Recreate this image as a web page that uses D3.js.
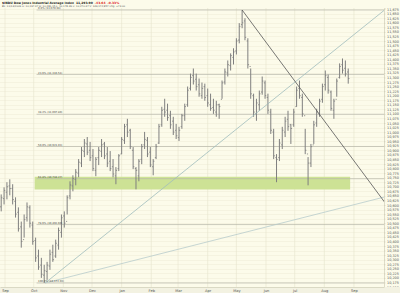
<!DOCTYPE html>
<html>
<head>
<meta charset="utf-8">
<script src="https://cdn.jsdelivr.net/npm/d3@7"></script>
<style>
  html, body { margin: 0; padding: 0; background: #fcfbea; }
  svg { display: block; font-family: 'DejaVu Sans', sans-serif; }
</style>
</head>
<body>
<svg id="chart"></svg>
<script>
// bars: one every 3 calendar days starting 28 Aug 2009
const barStart = new Date(2009, 7, 28);
const barStepDays = 3;

const highs = [
  10658, 10697, 10725, 10741, 10714, 10642, 10587, 10509, 10548, 10614,
  10598, 10509, 10421, 10355, 10310, 10272, 10288, 10355, 10382, 10410,
  10476, 10548, 10565, 10653, 10730, 10763, 10797, 10852, 10918, 10962,
  10973, 10946, 10907, 10863, 10918, 10962, 10946, 10918, 10896, 10852,
  10808, 10879, 10973, 11045, 11073, 11018, 10918, 10808, 10852, 10935,
  11001, 10973, 10918, 10852, 10935, 11045, 11139, 11183, 11156, 11117,
  11084, 11045, 11029, 11100, 11156, 11250, 11321, 11349, 11321, 11294,
  11272, 11266, 11239, 11211, 11183, 11172, 11156, 11283, 11349, 11393,
  11432, 11460, 11515, 11598, 11670, 11625, 11515, 11349, 11211, 11183,
  11228, 11305, 11283, 11211, 11128, 11018, 10879, 10962, 11029, 11084,
  11117, 11045, 11128, 11250, 11283, 11211, 11018, 10863, 10935, 11062,
  11128, 11183, 11266, 11338, 11316, 11228, 11183, 11294, 11377, 11404,
  11393, 11349
];
const lows = [
  10565, 10603, 10631, 10653, 10603, 10531, 10454, 10366, 10421, 10509,
  10476, 10382, 10288, 10244, 10200, 10172, 10189, 10244, 10288, 10310,
  10355, 10421, 10476, 10548, 10631, 10675, 10708, 10752, 10808, 10863,
  10874, 10841, 10786, 10758, 10819, 10863, 10852, 10808, 10786, 10752,
  10714, 10786, 10879, 10935, 10973, 10907, 10797, 10686, 10730, 10824,
  10907, 10863, 10808, 10763, 10852, 10935, 11029, 11084, 11062, 11018,
  10984, 10962, 10951, 11018, 11062, 11139, 11228, 11261, 11228, 11194,
  11183, 11172, 11139, 11117, 11100, 11084, 11073, 11183, 11261, 11305,
  11338, 11371, 11426, 11487, 11570, 11504, 11349, 11183, 11084, 11062,
  11117, 11205, 11183, 11100, 10990, 10852, 10725, 10841, 10907, 10973,
  11007, 10935, 11029, 11139, 11183, 11084, 10879, 10708, 10808, 10935,
  11029, 11084, 11161, 11228, 11211, 11117, 11073, 11194, 11294, 11321,
  11305, 11266
];
const opens = [
  10590, 10635, 10670, 10705, 10690, 10620, 10560, 10480, 10410, 10530,
  10585, 10490, 10405, 10320, 10270, 10215, 10235, 10265, 10340, 10320,
  10380, 10450, 10540, 10510, 10650, 10705, 10740, 10775, 10830, 10895,
  10935, 10900, 10870, 10790, 10860, 10895, 10935, 10880, 10840, 10810,
  10760, 10800, 10880, 10955, 11040, 11010, 10900, 10800, 10760, 10850,
  10930, 10955, 10890, 10810, 10860, 10940, 11040, 11125, 11120, 11090,
  11060, 11010, 10970, 11030, 11090, 11150, 11240, 11310, 11290, 11260,
  11200, 11250, 11200, 11150, 11135, 11110, 11150, 11180, 11275, 11325,
  11365, 11410, 11445, 11505, 11590, 11610, 11500, 11360, 11200, 11100,
  11150, 11220, 11270, 11190, 11110, 11000, 10860, 10860, 10930, 11000,
  11070, 11040, 11040, 11140, 11240, 11190, 11090, 10880, 10830, 10930,
  11050, 11100, 11180, 11260, 11300, 11220, 11120, 11180, 11300, 11370,
  11350, 11330
];
const closes = [
  10640, 10680, 10700, 10690, 10630, 10550, 10470, 10400, 10520, 10590,
  10500, 10400, 10310, 10260, 10220, 10240, 10270, 10330, 10300, 10390,
  10460, 10530, 10500, 10640, 10710, 10745, 10780, 10835, 10900, 10940,
  10890, 10860, 10800, 10850, 10900, 10930, 10870, 10830, 10800, 10770,
  10790, 10870, 10960, 11030, 11000, 10920, 10810, 10790, 10840, 10920,
  10960, 10880, 10820, 10840, 10920, 11030, 11120, 11110, 11080, 11040,
  11000, 10980, 11010, 11090, 11140, 11230, 11300, 11280, 11250, 11210,
  11240, 11190, 11160, 11130, 11120, 11150, 11140, 11270, 11330, 11370,
  11420, 11440, 11500, 11580, 11600, 11520, 11370, 11210, 11110, 11160,
  11210, 11280, 11200, 11120, 11010, 10870, 10850, 10940, 11010, 11060,
  11030, 11020, 11110, 11230, 11200, 11100, 10900, 10830, 10920, 11040,
  11110, 11170, 11250, 11310, 11230, 11130, 11170, 11280, 11360, 11340,
  11320, 11294
];

const monthTicks = ['2009-09-01', '2009-10-01', '2009-11-01', '2009-12-01', '2010-01-01',
  '2010-02-01', '2010-03-01', '2010-04-01', '2010-05-01', '2010-06-01', '2010-07-01',
  '2010-08-01', '2010-09-01'];
const monthLabels = ['Sep', 'Oct', 'Nov', 'Dec', 'Jan', 'Feb', 'Mar', 'Apr', 'May', 'Jun',
  'Jul', 'Aug', 'Sep'];

const priceTickMin = 10150, priceTickMax = 11675, priceTickStep = 25;

// fibonacci retracement between the Oct low and the May high
const fibHigh = 11670.04, fibLow = 10172.03;
const fibLevels = [0, 0.236, 0.382, 0.5, 0.618, 0.786, 1];
const fibStart = '2009-10-04';

// shaded support zone
const zoneDates = ['2009-10-02', '2010-08-28'];
const zonePrices = [10685, 10755];

// trendlines as [date, price] pairs
const downLine = [['2010-05-07', 11670], ['2010-10-03', 10616]];
const upLineSteep = [['2009-10-13', 10172], ['2010-10-03', 11670]];
const upLineFlat = [['2009-10-13', 10172], ['2010-10-03', 10644]];

const title = '$INDU Dow Jones Industrial Average Index';
const lastPrice = '11,293.90', lastChange = '-43.64', lastPct = '-0.33%';
const barInfo = 'Bk: 11/13/2009  O: 10,197.47  H: 10,281.15  L: 10,178.39  C: 10,270.47  V: 149,172,857  Chg: +73.00';

const W = 400, H = 293;
const plot = {left: 0, right: 384, top: 8, bottom: 287};

const parse = d3.timeParse('%Y-%m-%d');

let svg = d3.select('#chart')
    .attr('width', W)
    .attr('height', H);

svg.append('rect')
    .attr('width', W).attr('height', H)
    .attr('fill', '#fcfbea');

let x = d3.scaleTime()
    .domain([new Date(2009, 7, 26, 18), new Date(2010, 9, 2, 10)])
    .range([plot.left, plot.right]);

let y = d3.scaleLinear()
    .domain([10150, 11681])
    .range([plot.bottom, plot.top]);

let bars = highs.map((h, i) => ({
  date: d3.timeDay.offset(barStart, i * barStepDays),
  high: h,
  low: lows[i],
  open: opens[i],
  close: closes[i]
}));

svg.append('clipPath').attr('id', 'clip')
  .append('rect')
    .attr('x', plot.left).attr('y', plot.top)
    .attr('width', plot.right - plot.left)
    .attr('height', plot.bottom - plot.top);

let g = svg.append('g').attr('clip-path', 'url(#clip)');

// grid
let priceTicks = d3.range(priceTickMin, priceTickMax + 1, priceTickStep);
g.selectAll('.hgrid')
    .data(priceTicks)
  .enter().append('line')
    .attr('class', 'hgrid')
    .attr('x1', plot.left).attr('x2', plot.right)
    .attr('y1', (d) => Math.round(y(d)) + 0.5)
    .attr('y2', (d) => Math.round(y(d)) + 0.5)
    .attr('stroke', '#f0eed8')
    .attr('stroke-width', 0.6);

g.selectAll('.vgrid')
    .data(monthTicks)
  .enter().append('line')
    .attr('class', 'vgrid')
    .attr('x1', (d) => x(parse(d))).attr('x2', (d) => x(parse(d)))
    .attr('y1', plot.top).attr('y2', plot.bottom)
    .attr('stroke', '#e6e4cc')
    .attr('stroke-width', 0.6);

// support zone
g.append('rect')
    .attr('x', x(parse(zoneDates[0])))
    .attr('y', y(zonePrices[1]))
    .attr('width', x(parse(zoneDates[1])) - x(parse(zoneDates[0])))
    .attr('height', y(zonePrices[0]) - y(zonePrices[1]))
    .attr('fill', '#cde295');

// fib lines + labels
let fmt = d3.format(',.2f');
let fib = fibLevels.map((l) => ({level: l, value: fibHigh - (fibHigh - fibLow) * l}));

g.selectAll('.fib')
    .data(fib)
  .enter().append('line')
    .attr('class', 'fib')
    .attr('x1', x(parse(fibStart))).attr('x2', plot.right)
    .attr('y1', (d) => y(d.value)).attr('y2', (d) => y(d.value))
    .attr('stroke', '#b4b4a8')
    .attr('stroke-width', 0.7);

svg.selectAll('.fiblabel')
    .data(fib)
  .enter().append('text')
    .attr('class', 'fiblabel')
    .attr('x', x(parse(fibStart)) + 1.5)
    .attr('y', (d) => y(d.value) - 0.8)
    .attr('font-size', 2.6)
    .attr('fill', '#444')
    .text((d) => (d.level * 100).toFixed(1) + '% (' + fmt(d.value) + ')');

// OHLC bars
let bar = g.selectAll('.bar')
    .data(bars)
  .enter().append('g')
    .attr('class', 'bar')
    .attr('stroke', '#7f7f7f');

bar.append('line')
    .attr('x1', (d) => x(d.date)).attr('x2', (d) => x(d.date))
    .attr('y1', (d) => y(d.high)).attr('y2', (d) => y(d.low))
    .attr('stroke-width', 1);

bar.append('line')
    .attr('x1', (d) => x(d.date) - 1.2).attr('x2', (d) => x(d.date))
    .attr('y1', (d) => y(d.open)).attr('y2', (d) => y(d.open))
    .attr('stroke-width', 0.8);

bar.append('line')
    .attr('x1', (d) => x(d.date)).attr('x2', (d) => x(d.date) + 1.2)
    .attr('y1', (d) => y(d.close)).attr('y2', (d) => y(d.close))
    .attr('stroke-width', 0.8);

// trendlines
let line = d3.line()
    .x((d) => x(parse(d[0])))
    .y((d) => y(d[1]));

g.append('path').datum(upLineSteep)
    .attr('d', line)
    .attr('fill', 'none')
    .attr('stroke', '#9fbcbc')
    .attr('stroke-width', 0.8);

g.append('path').datum(upLineFlat)
    .attr('d', line)
    .attr('fill', 'none')
    .attr('stroke', '#b8cccc')
    .attr('stroke-width', 0.8);

g.append('path').datum(downLine)
    .attr('d', line)
    .attr('fill', 'none')
    .attr('stroke', '#555')
    .attr('stroke-width', 0.8);

// right price axis
let yAxis = svg.append('g')
    .attr('transform', 'translate(' + plot.right + ',0)')
    .call(d3.axisRight(y).tickValues(priceTicks).tickSize(1.5).tickPadding(1.5)
      .tickFormat(d3.format(',')));
yAxis.select('.domain').attr('stroke', '#c9c7b0').attr('stroke-width', 0.6);
yAxis.selectAll('.tick line').attr('stroke', '#c9c7b0').attr('stroke-width', 0.5);
yAxis.selectAll('.tick text')
    .attr('font-size', 3.4)
    .attr('font-family', 'DejaVu Sans, sans-serif')
    .attr('fill', '#555');

// bottom month axis
svg.append('rect')
    .attr('x', 0).attr('y', plot.bottom)
    .attr('width', W).attr('height', H - plot.bottom)
    .attr('fill', '#f3f2e2');

let xAxis = svg.append('g')
    .attr('transform', 'translate(0,' + plot.bottom + ')')
    .call(d3.axisBottom(x).tickValues(monthTicks.map(parse)).tickSize(0).tickPadding(2)
      .tickFormat((d, i) => monthLabels[i]));
xAxis.select('.domain').attr('stroke', '#c9c7b0').attr('stroke-width', 0.6);
xAxis.selectAll('.tick text')
    .attr('font-size', 3.6)
    .attr('font-family', 'DejaVu Sans, sans-serif')
    .attr('fill', '#555');

// header
let head = svg.append('text')
    .attr('x', 2).attr('y', 3.6)
    .attr('font-size', 3)
    .attr('font-weight', 'bold')
    .attr('fill', '#222');
head.append('tspan').text(title);
head.append('tspan').attr('dx', 2).text(lastPrice);
head.append('tspan').attr('dx', 2).attr('fill', '#d22').text(lastChange);
head.append('tspan').attr('dx', 2).attr('fill', '#d22').text(lastPct);

svg.append('text')
    .attr('x', 2).attr('y', 7)
    .attr('font-size', 2.5)
    .attr('fill', '#555')
    .text(barInfo);
</script>
</body>
</html>
